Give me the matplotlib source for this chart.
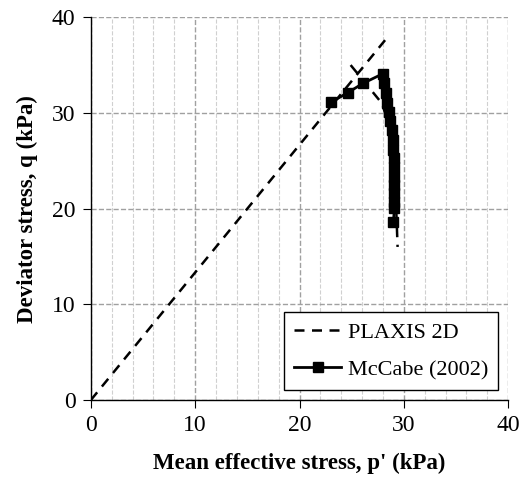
import numpy as np
import matplotlib
matplotlib.use("Agg")
import matplotlib.pyplot as plt
from matplotlib.ticker import MultipleLocator

plt.rcParams["font.family"] = ["Liberation Serif", "DejaVu Serif"]

# PLAXIS 2D stress path (nan = break between loading line and post-peak part)
plaxis_p = [0.0, 28.2, np.nan, 24.9, 27.9, 28.8, 29.2, 29.4]
plaxis_q = [0.0, 37.6, np.nan, 35.0, 31.0, 28.0, 22.0, 16.0]

# McCabe (2002) measured path
mccabe_p = [23.0, 24.6, 26.1, 28.0, 28.1, 28.3, 28.4, 28.6, 28.7, 28.9, 29.0,
            29.0, 29.1, 29.1, 29.1, 29.1, 29.1, 29.1, 29.1, 29.0]
mccabe_q = [31.1, 32.1, 33.1, 34.1, 33.1, 32.1, 31.0, 30.1, 29.2, 28.2, 27.2,
            26.1, 25.3, 24.3, 23.3, 22.5, 21.6, 20.7, 20.1, 18.6]

fig = plt.figure(figsize=(5.25, 4.78), dpi=100)
ax = fig.add_axes([0.173, 0.163, 0.795, 0.801])

ax.plot(plaxis_p, plaxis_q, "k--", lw=1.8, dashes=(4, 3), label="PLAXIS 2D")
ax.plot(mccabe_p, mccabe_q, "k-", lw=2, marker="s", ms=7.5, label="McCabe (2002)")

ax.set_xlim(0, 40)
ax.set_ylim(0, 40)
ax.xaxis.set_major_locator(MultipleLocator(10))
ax.yaxis.set_major_locator(MultipleLocator(10))
ax.xaxis.set_minor_locator(MultipleLocator(2))

ax.grid(which="major", color="#a0a0a0", ls="--", lw=1)
ax.grid(which="minor", axis="x", color="#d0d0d0", ls="--", lw=0.8)
ax.set_axisbelow(True)

for s in ["top", "right"]:
    ax.spines[s].set_visible(False)
ax.spines["left"].set_linewidth(1)
ax.spines["bottom"].set_linewidth(1)

ax.tick_params(which="major", direction="out", length=6, labelsize=17, pad=5)
ax.tick_params(which="minor", length=0)

ax.set_xlabel("Mean effective stress, p' (kPa)", fontsize=16.5, fontweight="bold",
              labelpad=12)
ax.set_ylabel("Deviator stress, q (kPa)", fontsize=16.5, fontweight="bold",
              labelpad=10)

leg = ax.legend(loc="lower right", fontsize=16, frameon=True, fancybox=False,
                edgecolor="black", framealpha=1, handlelength=2.1,
                handletextpad=0.3, borderpad=0.45, labelspacing=0.75,
                borderaxespad=0, bbox_to_anchor=(0.976, 0.026))
leg.get_frame().set_linewidth(1)

fig.savefig("out.png", dpi=100)
